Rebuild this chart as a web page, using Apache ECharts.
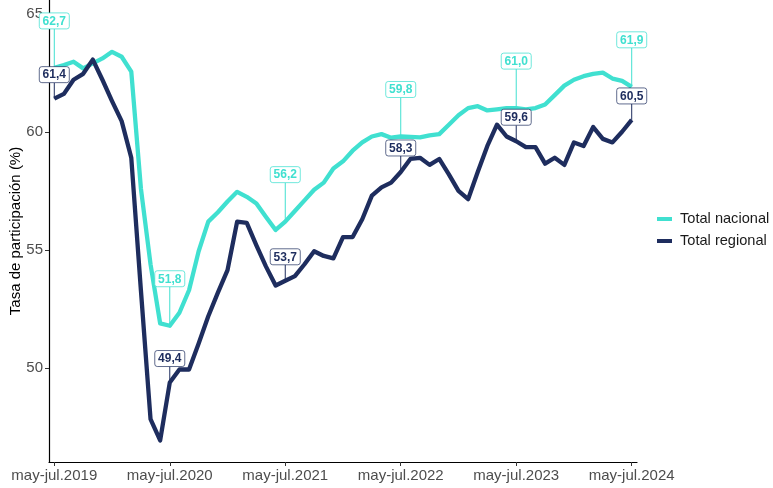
<!DOCTYPE html>
<html>
<head>
<meta charset="utf-8">
<script src="https://cdn.jsdelivr.net/npm/echarts@6/dist/echarts.min.js"></script>
<style>
html,body{margin:0;padding:0;background:#fff;}
#chart{width:773px;height:488px;}
</style>
</head>
<body>
<div id="chart"></div>
<script>
// Rolling-quarter categories (may-jul.2019 ... may-jul.2024)
const categories = [
  "may-jul.2019","jun-ago.2019","jul-sep.2019","ago-oct.2019","sep-nov.2019","oct-dic.2019","nov-ene.2020","dic-feb.2020","ene-mar.2020","feb-abr.2020","mar-may.2020","abr-jun.2020",
  "may-jul.2020","jun-ago.2020","jul-sep.2020","ago-oct.2020","sep-nov.2020","oct-dic.2020","nov-ene.2021","dic-feb.2021","ene-mar.2021","feb-abr.2021","mar-may.2021","abr-jun.2021",
  "may-jul.2021","jun-ago.2021","jul-sep.2021","ago-oct.2021","sep-nov.2021","oct-dic.2021","nov-ene.2022","dic-feb.2022","ene-mar.2022","feb-abr.2022","mar-may.2022","abr-jun.2022",
  "may-jul.2022","jun-ago.2022","jul-sep.2022","ago-oct.2022","sep-nov.2022","oct-dic.2022","nov-ene.2023","dic-feb.2023","ene-mar.2023","feb-abr.2023","mar-may.2023","abr-jun.2023",
  "may-jul.2023","jun-ago.2023","jul-sep.2023","ago-oct.2023","sep-nov.2023","oct-dic.2023","nov-ene.2024","dic-feb.2024","ene-mar.2024","feb-abr.2024","mar-may.2024","abr-jun.2024",
  "may-jul.2024"
];

const totalNacional = [
  62.7, 62.82, 62.96, 62.68, 62.89, 63.1, 63.38, 63.17, 62.54, 57.6, 54.4, 51.9,
  51.8, 52.35, 53.3, 54.95, 56.2, 56.6, 57.05, 57.46, 57.25, 56.97, 56.4, 55.85,
  56.2, 56.65, 57.1, 57.55, 57.85, 58.45, 58.75, 59.2, 59.55, 59.8, 59.9, 59.75,
  59.8, 59.78, 59.76, 59.85, 59.9, 60.3, 60.7, 61.0, 61.08, 60.9, 60.95, 61.0,
  61.0, 60.95, 61.0, 61.15, 61.55, 61.95, 62.2, 62.35, 62.45, 62.5, 62.25, 62.15,
  61.9
];

const totalRegional = [
  61.4, 61.6, 62.2, 62.45, 63.05, 62.2, 61.3, 60.45, 58.9, 53.3, 47.85, 46.95,
  49.4, 49.95, 49.95, 51.05, 52.2, 53.2, 54.15, 56.2, 56.15, 55.2, 54.3, 53.5,
  53.7, 53.9, 54.4, 54.95, 54.75, 54.65, 55.55, 55.55, 56.3, 57.3, 57.65, 57.85,
  58.3, 58.85, 58.9, 58.6, 58.85, 58.2, 57.5, 57.15, 58.3, 59.4, 60.3, 59.8,
  59.6, 59.35, 59.35, 58.65, 58.9, 58.6, 59.55, 59.4, 60.2, 59.7, 59.55, 60.0,
  60.5
];

const xTickIdx = [0, 12, 24, 36, 48, 60];
const yTicks = [50, 55, 60, 65];
const labelIdx = [0, 12, 24, 36, 48, 60];

const C_NAC = '#40E0D0';
const C_REG = '#1E2D5E';
const FONT = '"Liberation Sans", Arial, sans-serif';

function pairs(arr) { return arr.map((v, i) => [i, v]); }

function labelRenderer(color, border, off) {
  return function (params, api) {
    const x = api.value(0), v = api.value(1);
    const p = api.coord([x, v]);
    const cy = p[1] - off;
    const w = 30, h = 16;
    const txt = v.toFixed(1).replace('.', ',');
    return {
      type: 'group',
      children: [
        { type: 'line', shape: { x1: p[0], y1: p[1], x2: p[0], y2: cy + h / 2 },
          style: { stroke: color, lineWidth: 1 } },
        { type: 'rect', shape: { x: p[0] - w / 2, y: cy - h / 2, width: w, height: h, r: 2.5 },
          style: { fill: '#fff', stroke: border, lineWidth: 1 } },
        { type: 'text', style: { text: txt, x: p[0], y: cy + 0.5, align: 'center', verticalAlign: 'middle',
          font: 'bold 12px ' + FONT, fill: color } }
      ]
    };
  };
}

const chart = echarts.init(document.getElementById('chart'), null, { renderer: 'canvas' });
chart.setOption({
  backgroundColor: '#fff',
  animation: false,
  grid: { left: 49, right: 136, top: 0, bottom: 26, containLabel: false, outerBoundsMode: 'none' },
  legend: {
    orient: 'vertical',
    left: 657,
    top: 210,
    padding: 0,
    itemWidth: 15,
    itemHeight: 4,
    itemGap: 4,
    icon: 'rect',
    data: ['Total nacional', 'Total regional'],
    textStyle: { fontFamily: FONT, fontSize: 14.6, color: '#1a1a1a', lineHeight: 18, padding: [0, 0, 0, 3] }
  },
  xAxis: {
    type: 'value',
    min: -0.55,
    max: 60.55,
    splitLine: { show: false },
    axisLine: { show: true, onZero: false, lineStyle: { color: '#000', width: 1.2 } },
    axisTick: { show: true, length: 4, customValues: xTickIdx, lineStyle: { color: '#333', width: 1 } },
    axisLabel: {
      customValues: xTickIdx,
      formatter: function (v) { return categories[Math.round(v)]; },
      fontFamily: FONT, fontSize: 15, color: '#4d4d4d', margin: 6
    }
  },
  yAxis: {
    type: 'value',
    min: 46.04,
    max: 65.57,
    name: 'Tasa de participación (%)',
    nameLocation: 'middle',
    nameRotate: 90,
    nameGap: 26,
    nameMoveOverlap: false,
    nameTextStyle: { fontFamily: FONT, fontSize: 15, color: '#000' },
    splitLine: { show: false },
    axisLine: { show: true, onZero: false, lineStyle: { color: '#000', width: 1.2 } },
    axisTick: { show: true, length: 4, customValues: yTicks, lineStyle: { color: '#333', width: 1 } },
    axisLabel: {
      customValues: yTicks,
      fontFamily: FONT, fontSize: 15, color: '#4d4d4d', margin: 6
    }
  },
  series: [
    {
      name: 'Total nacional', type: 'line', data: pairs(totalNacional),
      showSymbol: false, symbol: 'none', color: C_NAC, z: 2,
      lineStyle: { width: 4.3, color: C_NAC, join: 'round' }
    },
    {
      name: 'Total regional', type: 'line', data: pairs(totalRegional),
      showSymbol: false, symbol: 'none', color: C_REG, z: 3,
      lineStyle: { width: 4.3, color: C_REG, join: 'round' }
    },
    {
      name: 'lab-nac', type: 'custom', z: 5, clip: false,
      data: labelIdx.map(i => [i, totalNacional[i]]),
      encode: { x: 0, y: 1 },
      renderItem: labelRenderer(C_NAC, 'rgba(64,224,208,0.75)', 47)
    },
    {
      name: 'lab-reg', type: 'custom', z: 6, clip: false,
      data: labelIdx.map(i => [i, totalRegional[i]]),
      encode: { x: 0, y: 1 },
      renderItem: labelRenderer(C_REG, 'rgba(30,45,94,0.7)', 24)
    }
  ]
});
</script>
</body>
</html>
